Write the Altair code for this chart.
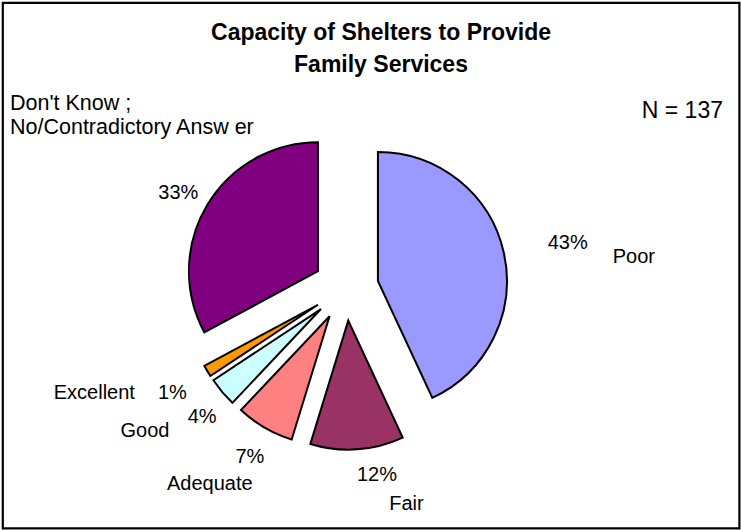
import altair as alt
import pandas as pd

# ---- data (N = 137) ----
categories = ["Poor", "Fair", "Adequate", "Good", "Excellent", "Don't Know"]
counts = [59, 16, 10, 5, 2, 45]          # 43%, 12%, 7%, 4%, 1%, 33% of 137
name_labels = ["Poor", "Fair", "Adequate", "Good", "Excellent", ""]
colors = ["#9999FF", "#993366", "#FF8080", "#CCFFFF", "#FF9900", "#800080"]
title_lines = ["Capacity of Shelters to Provide", "Family Services"]
box_lines = ["Don't Know ;", "No/Contradictory Answ er"]
n_text = "N = 137"

# ---- layout (kept apart from the values) ----
CX, CY = 346, 288        # pie centre in pixels
EXPLODE = 32.7           # radial explosion of each slice
RADIUS = 129
pct_r = [225, 195, 200, 197, 206, 190]       # label distance from centre
pct_dt = [2.6, -5.2, -1.5, -3.0, -1.7, -2.8]  # label angle nudge (deg)
name_r = [289, 230, 244, 250, 275, 0]
name_dt = [7.5, -11.3, 3.7, 3.6, 7.1, 0]
FONT = "Liberation Sans, Arial, Helvetica, sans-serif"

df = pd.DataFrame({
    "category": categories,
    "count": counts,
    "order": list(range(len(categories))),
    "name": name_labels,
    "pr": pct_r, "pdt": pct_dt, "nr": name_r, "ndt": name_dt,
})

base = (
    alt.Chart(df)
    .transform_window(cum="sum(count)", sort=[alt.SortField("order")], frame=[None, 0])
    .transform_joinaggregate(total="sum(count)")
    .transform_calculate(
        c0="datum.cum - datum.count",
        mid="(datum.cum - datum.count / 2) / datum.total * 2 * PI",
        ox=f"{CX} + {EXPLODE} * sin(datum.mid)",
        oy=f"{CY} - {EXPLODE} * cos(datum.mid)",
        pct_text="format(datum.count / datum.total, '.0%')",
    )
)

arcs = base.mark_arc(radius=RADIUS, stroke="black", strokeWidth=2).encode(
    theta=alt.Theta("c0:Q", stack=False,
                    scale=alt.Scale(domain=[0, sum(counts)], nice=False)),
    theta2="cum:Q",
    x=alt.X("ox:Q", scale=None),
    y=alt.Y("oy:Q", scale=None),
    color=alt.Color("category:N", scale=alt.Scale(domain=categories, range=colors), legend=None),
)

pct = (
    base.transform_calculate(
        pa="datum.mid + datum.pdt * PI / 180",
        px=f"{CX} + datum.pr * sin(datum.pa)",
        py=f"{CY} - datum.pr * cos(datum.pa)",
    )
    .mark_text(font=FONT, fontSize=20, align="center", baseline="alphabetic", color="black")
    .encode(x=alt.X("px:Q", scale=None), y=alt.Y("py:Q", scale=None), text="pct_text:N")
)

names = (
    base.transform_filter("datum.name != ''")
    .transform_calculate(
        na="datum.mid + datum.ndt * PI / 180",
        qx=f"{CX} + datum.nr * sin(datum.na)",
        qy=f"{CY} - datum.nr * cos(datum.na)",
    )
    .mark_text(font=FONT, fontSize=20, align="center", baseline="alphabetic", color="black")
    .encode(x=alt.X("qx:Q", scale=None), y=alt.Y("qy:Q", scale=None), text="name:N")
)

one = pd.DataFrame({"k": [0]})


def label(txt, x, y, size, align="left", weight="normal"):
    return alt.Chart(pd.DataFrame({"t": [txt]})).mark_text(
        font=FONT, fontSize=size, fontWeight=weight, align=align,
        baseline="alphabetic", color="black"
    ).encode(x=alt.value(x), y=alt.value(y), text="t:N")


border = alt.Chart(one).mark_rect(fill="transparent", stroke="black", strokeWidth=2.2).encode(
    x=alt.value(2.8), x2=alt.value(739.4), y=alt.value(2.8), y2=alt.value(528.4)
)

chart = alt.layer(
    border,
    arcs,
    pct,
    names,
    label(title_lines[0], 381, 39.5, 23, "center", "bold"),
    label(title_lines[1], 381, 71.5, 23, "center", "bold"),
    label(box_lines[0], 10, 109.5, 21.5),
    label(box_lines[1], 10, 133.5, 21.5),
    label(n_text, 723, 117.5, 23, "right"),
).properties(
    width=741, height=530, autosize=alt.AutoSizeParams(type="none"), padding=0
).configure_view(stroke=None)

chart.save("out.html", embed_options={"renderer": "svg", "actions": False})
